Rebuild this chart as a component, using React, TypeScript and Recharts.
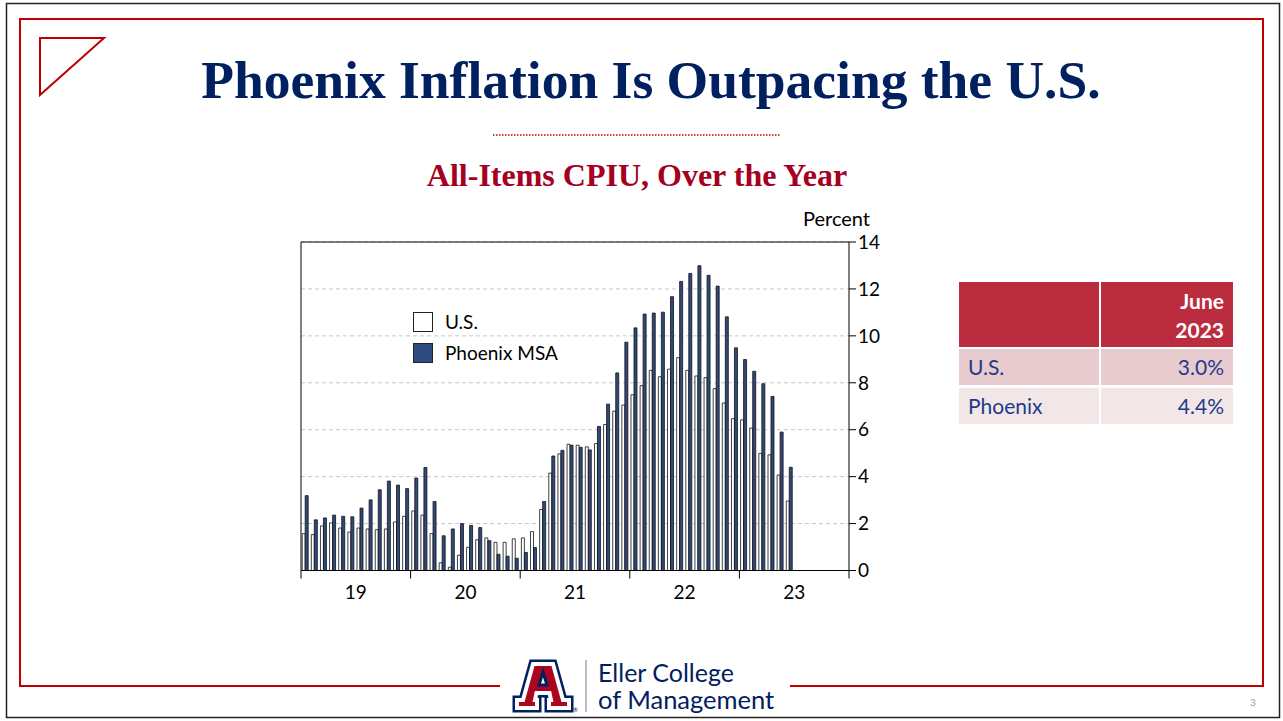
import { BarChart, Bar, XAxis, YAxis, CartesianGrid, Legend } from 'recharts';

// Monthly over-the-year % change, Jan 2019 – Jun 2023
const usValues = [
  1.57, 1.53, 1.9, 2.03, 1.81, 1.64, 1.81, 1.77, 1.74, 1.77, 2.07, 2.31,
  2.54, 2.36, 1.57, 0.33, 0.14, 0.65, 0.99, 1.31, 1.39, 1.2, 1.2, 1.35,
  1.39, 1.66, 2.6, 4.15, 4.97, 5.38, 5.34, 5.27, 5.41, 6.22, 6.79, 7.05,
  7.49, 7.88, 8.53, 8.26, 8.58, 9.07, 8.53, 8.29, 8.22, 7.75, 7.14, 6.47,
  6.42, 6.07, 4.99, 4.93, 4.07, 2.96,
];
const phxValues = [
  3.19, 2.16, 2.24, 2.36, 2.31, 2.29, 2.66, 3.01, 3.44, 3.81, 3.64, 3.49,
  3.94, 4.39, 2.94, 1.48, 1.77, 2.0, 1.92, 1.83, 1.27, 0.69, 0.61, 0.52,
  0.77, 0.98, 2.94, 4.88, 5.12, 5.34, 5.25, 5.14, 6.14, 7.09, 8.42, 9.73,
  10.34, 10.93, 10.97, 11.01, 11.67, 12.32, 12.66, 12.99, 12.58, 12.12, 10.81, 9.49,
  8.99, 8.49, 7.96, 7.42, 5.9, 4.4,
];
const yearLabels = ['19', '20', '21', '22', '23'];
const monthsOnAxis = 60; // axis runs Jan 2019 – Dec 2023
const yearTicks = [0, 6, 12, 18, 24, 30, 36, 42, 48, 54, 60];
const percentTicks = [0, 2, 4, 6, 8, 10, 12, 14];
const legendOrder = ['U.S.', 'Phoenix MSA'];

const tableRows = [
  { name: 'U.S.', value: '3.0%' },
  { name: 'Phoenix', value: '4.4%' },
];

const data = Array.from({ length: monthsOnAxis }, (_, i) => ({
  idx: i,
  label: `m${i}`,
  us: i < usValues.length ? usValues[i] : null,
  phx: i < phxValues.length ? phxValues[i] : null,
}));

const NAVY = '#002060';
const RED = '#c00000';
const BAR_BLUE = '#2f4a7e';
const SANS = 'Lato, "Open Sans", sans-serif';
const SERIF = '"Liberation Serif", "Times New Roman", serif';

const YearTick = (props: any) => {
  const { x, y, payload } = props;
  const v = payload.value as number;
  if (v % 12 === 0) {
    return <line x1={x} y1={y - 8} x2={x} y2={y} stroke="#000" strokeWidth={1} />;
  }
  return (
    <text x={x} y={y + 20} textAnchor="middle" fontSize={19} fontFamily={SANS} fill="#000">
      {yearLabels[(v - 6) / 12]}
    </text>
  );
};

const LegendBox = (props: any) => {
  const items = [...(props.payload || [])].sort(
    (a: any, b: any) => legendOrder.indexOf(a.value) - legendOrder.indexOf(b.value)
  );
  return (
    <div style={{ fontFamily: SANS, fontSize: 19, color: '#000' }}>
      {items.map((it: any) => (
        <div key={it.value} style={{ display: 'flex', alignItems: 'center', height: 31 }}>
          <div
            style={{
              width: 18,
              height: 18,
              border: '1px solid #222',
              background: it.payload?.fill || it.color,
              marginRight: 12,
            }}
          />
          <span>{it.value}</span>
        </div>
      ))}
    </div>
  );
};

function ALogo() {
  const pts =
    '20,4 40,4 50,40 56,40 56,48 36,48 36,40 38,40 36.5,33 23.5,33 22,40 24,40 24,48 4,48 4,40 10,40';
  return (
    <g transform="translate(513,660)">
      <polygon points={pts} fill={NAVY} stroke={NAVY} strokeWidth={9} strokeLinejoin="miter" />
      <polygon points={pts} fill="#ab0520" stroke="#fff" strokeWidth={4} strokeLinejoin="miter" />
      <polygon points="26,25 34,25 30,12" fill="#fff" stroke={NAVY} strokeWidth={3} />
      <text x={60} y={52} fontSize={6} fill={NAVY} fontFamily={SANS}>®</text>
    </g>
  );
}

export default function App() {
  return (
    <div style={{ position: 'absolute', left: 0, top: 0, width: 1283, height: 721, background: '#fff', overflow: 'hidden' }}>
      <svg width={1283} height={721} style={{ position: 'absolute', left: 0, top: 0 }}>
        {/* outer slide frame */}
        <rect x={6.5} y={3.5} width={1273} height={714} fill="none" stroke="#222" strokeWidth={1.5} />
        {/* red frame with gap for the logo */}
        <polyline points="500,686 20,686 20,19 1263,19 1263,686 790,686" fill="none" stroke={RED} strokeWidth={2} />
        <polygon points="40,38 104,38 40,95" fill="none" stroke={RED} strokeWidth={2} />
        <text x={651} y={98} textAnchor="middle" fontFamily={SERIF} fontWeight="bold" fontSize={53.5} fill={NAVY}>
          Phoenix Inflation Is Outpacing the U.S.
        </text>
        <line x1={493} y1={135} x2={780} y2={135} stroke={RED} strokeWidth={1.5} strokeDasharray="1.5 1.5" />
        <text x={637} y={186} textAnchor="middle" fontFamily={SERIF} fontWeight="bold" fontSize={32} fill="#a50021">
          All-Items CPIU, Over the Year
        </text>
        <text x={803} y={226} fontFamily={SANS} fontSize={20} fill="#000">Percent</text>
        <ALogo />
        <line x1={586} y1={660} x2={586} y2={712} stroke="#8a93a8" strokeWidth={1.2} />
        <text x={598} y={682} fontFamily={SANS} fontSize={25} fill={NAVY}>Eller College</text>
        <text x={598} y={709} fontFamily={SANS} fontSize={25.5} fill={NAVY}>of Management</text>
        <text x={1250} y={706} fontFamily={SANS} fontSize={10} fill="#999">3</text>
      </svg>

      <div style={{ position: 'absolute', left: 250, top: 200 }}>
        <BarChart
          width={680}
          height={420}
          data={data}
          margin={{ top: 41, right: 21, bottom: 19.5, left: 50 }}
          barCategoryGap="13%"
          barGap={0}
        >
          <CartesianGrid vertical={false} stroke="#c8c8c8" strokeDasharray="4 3" />
          <XAxis dataKey="label" type="category" height={0} hide />
          <XAxis
            xAxisId="yr"
            dataKey="idx"
            type="number"
            domain={[0, monthsOnAxis]}
            ticks={yearTicks}
            interval={0}
            height={30}
            tickSize={8}
            tickMargin={0}
            tickLine={false}
            axisLine={{ stroke: '#000' }}
            tick={(p: any) => <YearTick {...p} />}
          />
          <XAxis
            xAxisId="top"
            orientation="top"
            dataKey="idx"
            type="number"
            domain={[0, monthsOnAxis]}
            height={1}
            tick={false}
            tickLine={false}
            axisLine={{ stroke: '#000' }}
          />
          <YAxis
            orientation="right"
            domain={[0, 14]}
            ticks={percentTicks}
            interval={0}
            width={60}
            tickSize={7}
            tickMargin={2}
            axisLine={{ stroke: '#000' }}
            tickLine={{ stroke: '#000' }}
            tick={{ fontSize: 19, fontFamily: SANS, fill: '#000' }}
          />
          <YAxis
            yAxisId="frame"
            orientation="left"
            domain={[0, 14]}
            width={1}
            tick={false}
            tickLine={false}
            axisLine={{ stroke: '#000' }}
          />
          <Legend
            layout="vertical"
            align="center"
            verticalAlign="middle"
            content={<LegendBox />}
            wrapperStyle={{ left: 163, top: 106, width: 200, height: 70 }}
          />
          <Bar dataKey="us" name="U.S." fill="#fff" stroke="#111" strokeWidth={0.8} isAnimationActive={false} />
          <Bar dataKey="phx" name="Phoenix MSA" fill={BAR_BLUE} stroke="#111" strokeWidth={0.8} isAnimationActive={false} />
        </BarChart>
      </div>

      {/* June 2023 table */}
      <div style={{ position: 'absolute', left: 959, top: 282, width: 274, fontFamily: SANS, fontSize: 21 }}>
        <div style={{ display: 'flex', height: 65, marginBottom: 2 }}>
          <div style={{ width: 140, background: '#bb2c3e', marginRight: 2 }} />
          <div
            style={{
              flex: 1,
              background: '#bb2c3e',
              color: '#fff',
              fontWeight: 700,
              textAlign: 'right',
              paddingRight: 9,
              lineHeight: '29px',
              paddingTop: 4,
            }}
          >
            June
            <br />
            2023
          </div>
        </div>
        {tableRows.map((r, i) => (
          <div key={r.name} style={{ display: 'flex', height: 36, marginBottom: 3, color: '#1f3a8a' }}>
            <div style={{ width: 131, background: i === 0 ? '#e8cbce' : '#f2e6e7', marginRight: 2, paddingLeft: 9, lineHeight: '36px' }}>
              {r.name}
            </div>
            <div style={{ flex: 1, background: i === 0 ? '#e8cbce' : '#f2e6e7', textAlign: 'right', paddingRight: 9, lineHeight: '36px' }}>
              {r.value}
            </div>
          </div>
        ))}
      </div>
    </div>
  );
}
